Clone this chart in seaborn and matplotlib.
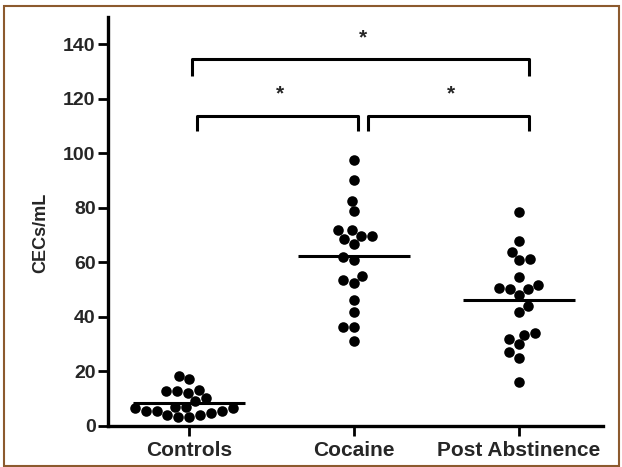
import matplotlib

matplotlib.use("Agg")
import matplotlib.pyplot as plt
import numpy as np
import pandas as pd
import seaborn as sns
from matplotlib.patches import Rectangle

groups = ["Controls", "Cocaine", "Post Abstinence"]

controls = [17.1, 18.3, 12.9, 12.2, 13.2, 12.9, 10.1, 9.2, 5.5, 4.9,
            7.1, 4.0, 6.5, 3.4, 5.5, 3.4, 7.1, 4.0, 6.5, 5.5]
cocaine = [97.7, 90.4, 82.6, 78.8, 71.8, 69.7, 68.6, 69.7, 66.7, 71.8,
           62.0, 60.8, 55.0, 52.5, 53.7, 46.2, 41.9, 36.4, 36.2, 31.0]
post_abstinence = [78.5, 67.8, 61.4, 60.8, 63.9, 54.7, 50.7, 50.1, 50.3, 48.0,
                   51.8, 44.0, 41.9, 34.0, 31.9, 33.3, 29.9, 27.0, 25.0, 16.0]

yticks = [0, 20, 40, 60, 80, 100, 120, 140]

# significance brackets: (left group, right group, bar height, drop)
brackets = [(0, 2, 134.5, 6.0), (0, 1, 113.7, 5.6), (1, 2, 113.7, 5.6)]

df = pd.DataFrame(
    {
        "group": np.repeat(groups, [len(controls), len(cocaine), len(post_abstinence)]),
        "cecs": controls + cocaine + post_abstinence,
    }
)

sns.set_style("ticks")
plt.rcParams["font.family"] = ["Liberation Sans", "DejaVu Sans"]
plt.rcParams["font.weight"] = "bold"

fig = plt.figure(figsize=(6.22, 4.67), dpi=100)
ax = fig.add_axes([108 / 622, 41 / 467, 495 / 622, 409 / 467])

sns.swarmplot(data=df, x="group", y="cecs", order=groups, color="black",
              size=7.6, ax=ax)

means = df.groupby("group")["cecs"].mean().reindex(groups)
for i, m in enumerate(means):
    ax.hlines(m, i - 0.34, i + 0.34, color="black", lw=2.2, zorder=3)

for a, b, h, d in brackets:
    xa = a + (0.015 if b == 2 else 0.045)
    xb = b + (0.06 if b == 2 else 0.025)
    if a == 1:
        xa = a + 0.083
    ax.plot([xa, xa, xb, xb], [h - d, h, h, h - d], color="black", lw=2.2,
            solid_capstyle="butt", clip_on=False)
    ax.text((xa + xb) / 2 + 0.015, h + 6.0, "*", ha="center", va="baseline",
            fontsize=15, fontweight="bold")

ax.set_xlim(-0.494, 2.512)
ax.set_ylim(0, 150)
ax.set_yticks(yticks)
ax.set_xlabel("")
ax.set_ylabel("CECs/mL", fontsize=13, fontweight="bold")
ax.yaxis.set_label_coords(-0.118, 0.472)
ax.tick_params(axis="both", width=2, length=7, color="black")
ax.tick_params(axis="y", labelsize=14, pad=2)
ax.tick_params(axis="x", labelsize=15, pad=4)
for lbl in ax.get_xticklabels() + ax.get_yticklabels():
    lbl.set_fontweight("bold")

sns.despine(ax=ax)
for s in ["left", "bottom"]:
    ax.spines[s].set_linewidth(2.4)
    ax.spines[s].set_color("black")

fig.patches.append(Rectangle((4 / 622, 1 / 467), 615 / 622, 460 / 467,
                             transform=fig.transFigure, fill=False,
                             edgecolor="#8c5a2e", lw=1.5))

fig.savefig("out.png", dpi=100)
